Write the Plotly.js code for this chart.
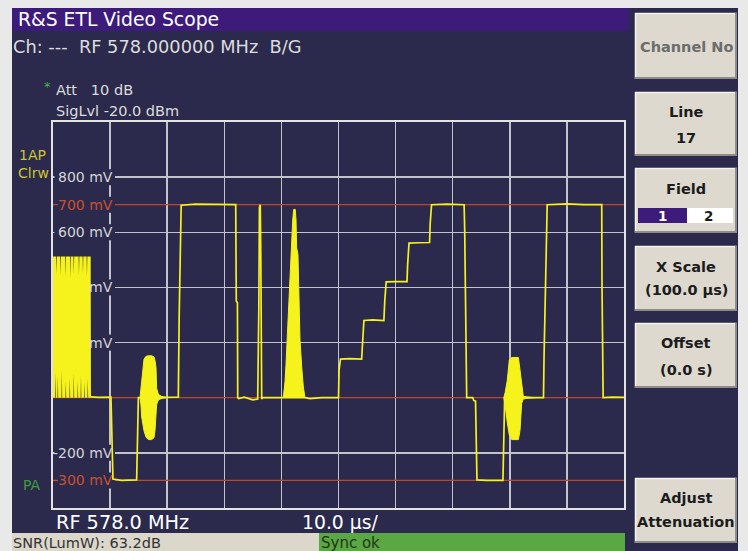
<!DOCTYPE html>
<html><head><meta charset="utf-8">
<script src="https://cdn.plot.ly/plotly-3.0.1.min.js"></script>
<style>html,body{margin:0;padding:0;background:#e9e9e9;overflow:hidden}</style>
</head><body><div id="chart" style="width:748px;height:551px"></div>
<script>
// ---------------- data (time in µs, level in mV) ----------------
const timeUs = [6.6, 8, 10.15, 10.3, 10.5, 12, 14.65, 14.8, 14.95, 15.2,
  19.9, 21.95, 22.1, 22.3, 22.45, 25, 28, 32.0, 32.1, 32.3,
  32.35, 32.5, 33.5, 35.0, 35.85, 35.95, 36.05, 36.15, 36.3, 36.4,
  36.45, 36.55, 36.7, 40.33, 44.13, 45, 47, 50.0, 50.1, 50.35,
  52, 54.05, 54.2, 54.45, 56, 57.95, 58.1, 58.35, 60, 62.0,
  62.1, 62.35, 64, 65.95, 66.05, 66.3, 69, 72.0, 72.1, 72.3,
  72.45, 73.5, 73.7, 74.0, 74.1, 74.25, 76, 78.8, 78.95, 79.1,
  84.4, 85.9, 86.0, 86.1, 86.3, 86.45, 86.55, 90, 93, 96.1,
  96.15, 96.35, 98, 100];
const levelMv = [3, 1, 2, -150, -295, -300, -298, -150, 0, 0,
  0, 2, 300, 600, 698, 702, 700, 700, 350, 345,
  0, -3, 2, -8, -5, 150, 330, 690, 700, 500,
  80, -5, 0, 0, 0, -3, 0, 0, 100, 140,
  142, 140, 200, 280, 282, 280, 350, 420, 421, 421,
  480, 561, 562, 563, 630, 700, 702, 700, 610, 85,
  0, 0, -10, -12, -150, -298, -300, -300, -150, 0,
  0, 0, 150, 280, 380, 690, 700, 703, 700, 700,
  400, 0, 2, 1];

// dense luminance burst at the left edge (outline: top edge, then bottom edge back)
const lumaBurstT = [0, 0.54, 0.6, 0.66, 1.24, 1.3, 1.36, 2.14, 2.2, 2.26, 2.99, 3.05, 3.11, 3.59, 3.65, 3.71,
  4.49, 4.55, 4.61, 5.19, 5.25, 5.31, 5.89, 5.95, 6.01, 6.6, 6.65,
  6.65, 6.16, 6.1, 6.04, 5.61, 5.55, 5.49, 4.96, 4.9, 4.84, 4.41, 4.35, 4.29, 3.71, 3.65, 3.59,
  3.01, 2.95, 2.89, 2.31, 2.25, 2.19, 1.61, 1.55, 1.49, 0.91, 0.85, 0.79, 0.51, 0.45, 0.39, 0];
const lumaBurstMv = [512, 512, 450, 512, 512, 445, 512, 512, 440, 512, 512, 435, 512, 512, 450, 512,
  512, 445, 512, 512, 450, 512, 512, 440, 512, 512, 5,
  0, 0, 70, 0, 0, 55, 0, 0, 80, 0, 0, 60, 0, 0, 90, 0,
  0, 70, 0, 0, 60, 0, 0, 100, 0, 0, 80, 0, 0, 90, 0, 0];

// colour bursts (upper / lower envelopes)
const chroma1T = [15.24, 15.4, 15.53, 15.94, 16.29, 16.7, 17.28, 17.69, 17.86, 18.04, 18.15, 18.45, 19.0, 19.9];
const chroma1Upper = [0, 30, 60, 140, 150, 152, 152, 148, 135, 110, 35, 12, 5, 0];
const chroma1Lower = [0, -25, -70, -120, -143, -152, -152, -145, -120, -60, -25, -8, -3, 0];
const chroma2T = [78.95, 79.2, 79.56, 79.91, 80.33, 81.5, 81.79, 82.08, 82.36, 83, 84.4];
const chroma2Upper = [0, 20, 63, 136, 146, 146, 100, 39, 5, 3, 0];
const chroma2Lower = [0, -30, -90, -135, -152, -152, -118, -20, -5, -2, 0];

// modulated 20T pulse envelope
const pulse20T = [40.33, 40.63, 40.8, 41.03, 41.2, 41.5, 41.74, 41.98, 42.15, 42.43, 42.56, 42.67, 42.9, 43.08, 43.26, 43.55, 43.84, 44.13];
const pulse20Mv = [0, 57, 118, 220, 311, 462, 565, 644, 683, 683, 644, 543, 520, 329, 209, 114, 39, 0];

// level labels and reference lines
const yLabelMv = [800, 700, 600, 400, 200, -200, -300];
const yLabelText = ['800 mV', '700 mV', '600 mV', 'mV', 'mV', '-200 mV', '-300 mV'];
const refLevelsMv = [700, 0, -300];

// ---------------- layout helpers ----------------
const W = 748, H = 551, L = 53, R = 624, T = 122, B = 508;
const fx = p => (p - L) / (R - L);
const fy = p => (B - p) / (B - T);
const tOf = p => (p - L) / (R - L) * 100;
const mvPx = 1400 / (B - T);
const FONT = 'DejaVu Sans, Verdana, sans-serif';
const YEL = '#f6f21c';
const NAVY = '#2b2a4c';
const PURPLE = '#3d1b7b';
const RED = '#b9482d';

const shapes = [];
function rectPx(x0, y0, x1, y1, fill, extra) {
  shapes.push(Object.assign({type: 'rect', xref: 'paper', yref: 'paper', x0: fx(x0), x1: fx(x1), y0: fy(y1), y1: fy(y0),
    fillcolor: fill, line: {width: 0}, layer: 'above'}, extra || {}));
}
function linePx(x0, y0, x1, y1, color, w) {
  shapes.push({type: 'line', xref: 'paper', yref: 'paper', x0: fx(x0), x1: fx(x1), y0: fy(y0), y1: fy(y1),
    line: {color: color, width: w}, layer: 'above'});
}
const annotations = [];
function txt(px, py, text, size, color, opts) {
  opts = opts || {};
  annotations.push({xref: 'paper', yref: 'paper', x: fx(px), y: fy(py), text: text, showarrow: false,
    xanchor: opts.xa || 'left', yanchor: 'middle', borderpad: 0,
    font: {family: FONT, size: size, color: color, weight: opts.bold ? 'bold' : 'normal'}});
}

// frame
rectPx(0, 0, 12, H, '#e9e9e9');
rectPx(0, 0, W, 8, '#e9e9e9');
rectPx(738, 0, W, H, '#e9e9e9');
rectPx(12, 8, 629, 31, PURPLE);
rectPx(12, 533, 319, H, '#dcd7cb');
rectPx(319, 533, 625, H, '#5ba743');

// reference lines and label boxes (between grid and trace)
refLevelsMv.forEach(v => shapes.push({type: 'line', xref: 'x', yref: 'y', x0: 0, x1: 100, y0: v, y1: v,
  line: {color: RED, width: 1.3}, layer: 'between'}));
yLabelMv.forEach((v, i) => {
  const red = refLevelsMv.indexOf(v) >= 0;
  const left = yLabelText[i] === 'mV' ? 91.5 : (red ? 58 : 54.5);
  shapes.push({type: 'rect', xref: 'x', yref: 'y', x0: tOf(left), x1: tOf(115), y0: v - 8 * mvPx, y1: v + 8 * mvPx,
    fillcolor: NAVY, line: {width: 0}, layer: 'between'});
  annotations.push({xref: 'x', yref: 'y', x: tOf(114), y: v, text: yLabelText[i], showarrow: false,
    xanchor: 'right', yanchor: 'middle', borderpad: 0,
    font: {family: FONT, size: 14, color: red ? '#c9502f' : '#d4d4d8'}});
});

// buttons
const buttons = [[13, 79], [92, 156], [168, 233], [246, 311], [323, 388], [478, 543]];
buttons.forEach(b => {
  rectPx(635, b[0], 737, b[1], '#ddd9cf');
  linePx(635, b[0] + 0.5, 737, b[0] + 0.5, '#f6f4ef', 1.5);
  linePx(635.5, b[0], 635.5, b[1], '#f6f4ef', 1.5);
  linePx(635, b[1] - 1, 737, b[1] - 1, '#8f8c85', 2);
  linePx(736, b[0], 736, b[1], '#8f8c85', 2);
});
rectPx(638, 208, 687, 223, PURPLE);
rectPx(687, 208, 733, 223, '#ffffff');

// texts
txt(17, 20, 'R&amp;S ETL Video Scope', 18.8, '#ffffff');
txt(12, 47, 'Ch: ---\u00a0\u00a0RF 578.000000 MHz\u00a0\u00a0B/G', 17.8, '#dcdcdc');
txt(43, 87, '*', 13, '#49b04a');
txt(55, 90, 'Att\u00a0\u00a0\u00a010 dB', 14.5, '#dcdcdc');
txt(55, 111, 'SigLvl -20.0 dBm', 14.5, '#dcdcdc');
txt(18, 155, '1AP', 14, '#c9c530');
txt(17, 173, 'Clrw', 14, '#c9c530');
txt(22, 485, 'PA', 14, '#3f9a3f');
txt(55, 522, 'RF 578.0 MHz', 19.3, '#ffffff');
txt(301, 522, '10.0 µs/', 18.8, '#ffffff');
txt(12, 543, 'SNR(LumW): 63.2dB', 14.5, '#333333');
txt(320, 543, 'Sync ok', 15, '#1d361a');
const BC = 686, DARK = '#1c1c1c';
txt(BC, 46.7, 'Channel No', 14.5, '#6c6c6c', {xa: 'center', bold: true});
txt(BC, 111.7, 'Line', 14.5, DARK, {xa: 'center', bold: true});
txt(BC, 137.7, '17', 14.5, DARK, {xa: 'center', bold: true});
txt(BC, 189.3, 'Field', 14.5, DARK, {xa: 'center', bold: true});
txt(662.5, 215.5, '1', 13.5, '#ffffff', {xa: 'center', bold: true});
txt(709, 215.5, '2', 13.5, DARK, {xa: 'center', bold: true});
txt(BC, 266.7, 'X Scale', 14.5, DARK, {xa: 'center', bold: true});
txt(BC, 290, '(100.0 µs)', 14.5, DARK, {xa: 'center', bold: true});
txt(BC, 343.3, 'Offset', 14.5, DARK, {xa: 'center', bold: true});
txt(BC, 370, '(0.0 s)', 14.5, DARK, {xa: 'center', bold: true});
txt(BC, 498.3, 'Adjust', 14.5, DARK, {xa: 'center', bold: true});
txt(BC, 521.7, 'Attenuation', 14.5, DARK, {xa: 'center', bold: true});

// ---------------- traces ----------------
const traces = [
  {x: lumaBurstT, y: lumaBurstMv, type: 'scatter', mode: 'lines', fill: 'toself', fillcolor: YEL,
    line: {width: 0, color: YEL}, hoverinfo: 'skip'},
  {x: chroma1T, y: chroma1Upper, type: 'scatter', mode: 'lines', fill: 'tozeroy', fillcolor: YEL, line: {color: YEL, width: 1}},
  {x: chroma1T, y: chroma1Lower, type: 'scatter', mode: 'lines', fill: 'tozeroy', fillcolor: YEL, line: {color: YEL, width: 1}},
  {x: chroma2T, y: chroma2Upper, type: 'scatter', mode: 'lines', fill: 'tozeroy', fillcolor: YEL, line: {color: YEL, width: 1}},
  {x: chroma2T, y: chroma2Lower, type: 'scatter', mode: 'lines', fill: 'tozeroy', fillcolor: YEL, line: {color: YEL, width: 1}},
  {x: pulse20T, y: pulse20Mv, type: 'scatter', mode: 'lines', fill: 'tozeroy', fillcolor: YEL, line: {color: YEL, width: 1}},
  {x: timeUs, y: levelMv, type: 'scatter', mode: 'lines', line: {color: YEL, width: 1.7}}
];

const layout = {
  width: W, height: H, autosize: false, showlegend: false,
  margin: {l: L, r: W - R, t: T, b: H - B, pad: 0},
  paper_bgcolor: NAVY, plot_bgcolor: NAVY,
  xaxis: {range: [0, 100], dtick: 10, tick0: 0, showticklabels: false, ticks: '', zeroline: false,
    showgrid: true, gridcolor: '#c3c3cb', gridwidth: 1.5,
    showline: true, mirror: true, linecolor: '#e2e2e2', linewidth: 2, fixedrange: true},
  yaxis: {range: [-400, 1000], dtick: 200, tick0: 0, showticklabels: false, ticks: '', zeroline: false,
    showgrid: true, gridcolor: '#c3c3cb', gridwidth: 1.5,
    showline: true, mirror: true, linecolor: '#e2e2e2', linewidth: 2, fixedrange: true},
  shapes: shapes,
  annotations: annotations
};

Plotly.newPlot('chart', traces, layout, {staticPlot: true, displayModeBar: false});
</script>
</body></html>
